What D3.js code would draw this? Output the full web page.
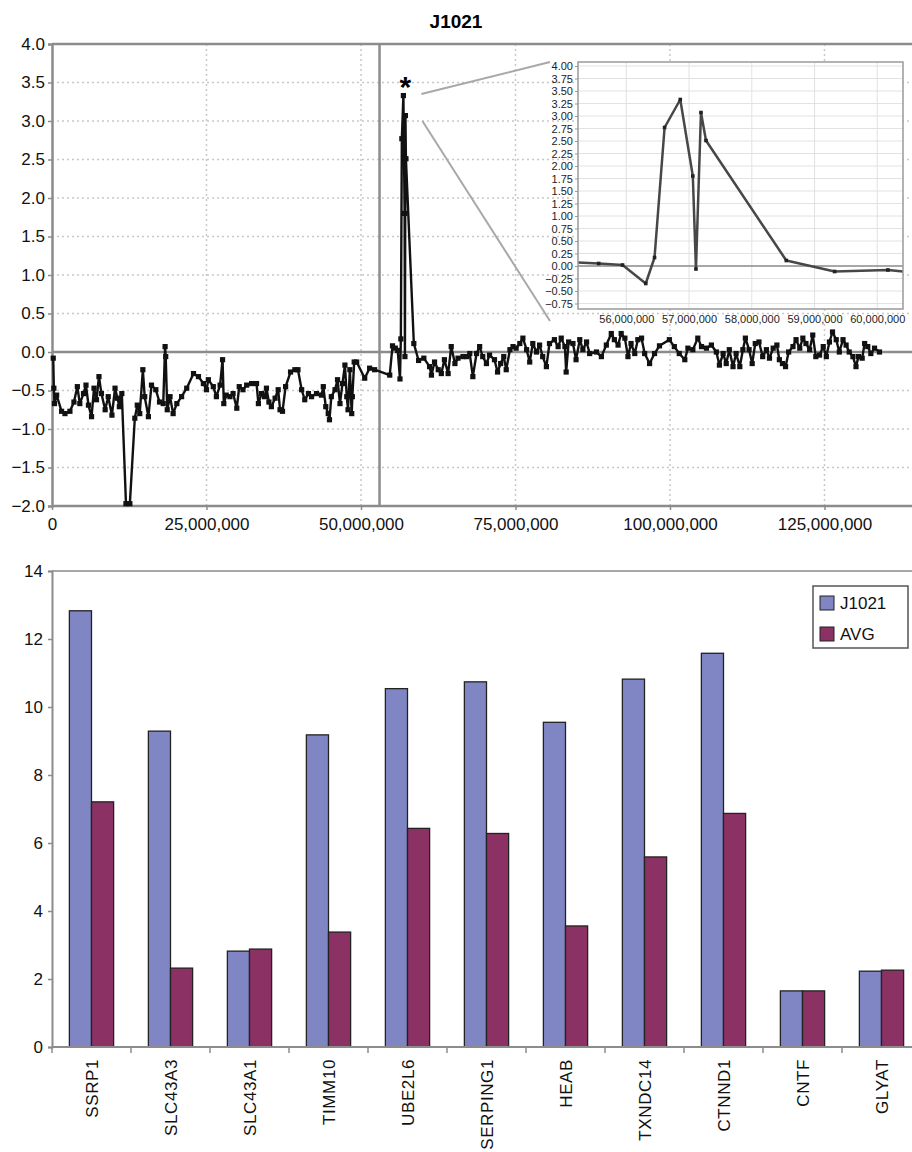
<!DOCTYPE html>
<html>
<head>
<meta charset="utf-8">
<script src="https://cdn.jsdelivr.net/npm/d3@7"></script>
<style>
  body { margin: 0; background: #fff; }
  svg { font-family: "Liberation Sans", Arial, Helvetica, sans-serif; }
</style>
</head>
<body>
<svg id="chart" width="912" height="1152"></svg>
<script>
// ---- data ----
const sampleName = 'J1021';

// copy number profile, [position in Mb, log ratio]
const cnvPoints = [
  [0.2,-0.08],[0.3,-0.47],[0.4,-0.67],[0.75,-0.56],[1.55,-0.77],[2.1,-0.80],[2.9,-0.77],[3.55,-0.65],
  [4.1,-0.45],[4.5,-0.67],[5.1,-0.54],[5.5,-0.43],[5.9,-0.69],[6.4,-0.84],[6.8,-0.47],[7.2,-0.62],
  [7.6,-0.32],[8.0,-0.54],[8.6,-0.75],[9.1,-0.58],[9.7,-0.82],[10.2,-0.47],[10.6,-0.60],[10.9,-0.71],
  [11.3,-0.54],[11.97,-1.97],[12.6,-1.97],[13.4,-0.86],[13.8,-0.69],[14.2,-0.80],[14.7,-0.23],[15.0,-0.58],
  [15.6,-0.84],[16.1,-0.43],[16.8,-0.49],[17.4,-0.65],[18.0,-0.67],[18.3,0.07],[18.4,-0.06],[18.65,-0.75],
  [19.1,-0.58],[19.6,-0.80],[20.2,-0.67],[20.97,-0.58],[21.8,-0.47],[22.9,-0.28],[23.7,-0.32],[24.5,-0.41],
  [25.0,-0.49],[25.3,-0.36],[26.1,-0.45],[26.6,-0.58],[27.2,-0.43],[27.6,-0.10],[27.8,-0.67],[28.2,-0.56],
  [28.8,-0.58],[29.3,-0.54],[29.9,-0.73],[30.3,-0.45],[30.9,-0.49],[31.5,-0.43],[32.3,-0.41],[33.1,-0.41],
  [33.4,-0.67],[33.9,-0.54],[34.4,-0.58],[34.7,-0.47],[35.1,-0.65],[35.5,-0.71],[36.1,-0.60],[36.6,-0.49],
  [36.9,-0.75],[37.3,-0.77],[37.8,-0.45],[38.6,-0.26],[39.3,-0.23],[39.8,-0.23],[40.4,-0.49],[40.9,-0.62],
  [41.5,-0.54],[42.0,-0.58],[42.8,-0.54],[43.6,-0.56],[43.9,-0.45],[44.3,-0.71],[44.7,-0.80],[44.9,-0.88],
  [45.2,-0.58],[45.8,-0.49],[46.2,-0.36],[46.6,-0.67],[47.0,-0.41],[47.4,-0.17],[47.7,-0.58],[47.9,-0.75],
  [48.2,-0.23],[48.5,-0.80],[48.6,-0.58],[48.9,-0.13],[49.3,-0.13],[50.6,-0.34],[51.4,-0.21],[52.2,-0.23],
  [54.65,-0.30],[55.1,0.08],[55.56,0.05],[55.94,0.02],[56.31,-0.35],[56.45,0.17],[56.61,2.77],[56.86,3.33],
  [57.06,1.80],[57.11,-0.06],[57.19,3.07],[57.27,2.51],[58.55,0.11],[59.32,-0.11],[60.17,-0.08],
  [61.1,-0.19],[61.4,-0.30],[61.9,-0.13],[62.5,-0.23],[63.0,-0.28],[63.5,-0.10],[64.1,-0.28],[64.6,0.07],
  [65.2,-0.15],[65.7,-0.08],[66.5,-0.06],[67.1,-0.06],[67.6,-0.02],[68.1,-0.32],[68.7,-0.02],[69.2,0.07],
  [69.7,-0.06],[70.3,-0.15],[70.8,-0.04],[71.6,-0.10],[72.1,-0.26],[72.6,-0.15],[73.1,-0.06],[73.5,-0.23],
  [74.1,0.03],[74.6,0.07],[75.1,0.05],[75.7,0.11],[76.2,0.18],[76.8,0.03],[77.3,-0.13],[77.8,0.11],
  [78.4,0.00],[78.9,0.09],[79.4,-0.06],[80.0,-0.19],[80.5,0.11],[81.3,0.16],[81.9,0.07],[82.4,0.18],
  [83.0,0.07],[83.2,-0.26],[83.6,0.13],[84.3,0.11],[84.8,-0.10],[85.4,0.16],[85.9,0.03],[86.5,0.13],
  [87.0,-0.02],[88.1,0.00],[88.9,-0.06],[89.7,0.09],[90.5,0.24],[91.0,0.16],[91.6,0.09],[92.1,0.24],
  [92.7,0.18],[93.2,-0.06],[93.7,0.11],[94.3,-0.02],[94.8,0.16],[95.4,0.18],[95.9,-0.02],[96.7,-0.15],
  [97.5,-0.02],[98.3,0.08],[99.9,0.16],[100.7,0.07],[101.5,-0.02],[102.4,-0.10],[102.9,0.05],[103.7,0.03],
  [104.5,0.18],[105.1,0.07],[105.9,0.05],[106.7,0.09],[107.5,0.00],[108.0,-0.17],[108.6,-0.02],[109.1,-0.15],
  [109.6,0.03],[110.2,-0.19],[110.7,-0.02],[111.3,-0.19],[111.8,0.03],[112.2,0.18],[112.8,0.03],[113.3,-0.15],
  [113.8,0.11],[114.4,0.13],[115.0,-0.06],[115.6,0.03],[116.1,-0.08],[116.7,0.05],[117.3,0.09],[117.7,-0.10],
  [118.2,-0.15],[118.7,-0.19],[119.2,0.00],[119.9,0.07],[120.4,0.16],[121.0,0.05],[121.5,0.18],[122.0,0.11],
  [122.6,0.03],[123.1,0.22],[123.6,-0.06],[124.2,-0.04],[124.8,0.07],[125.3,-0.06],[125.8,0.13],[126.3,0.26],
  [126.9,0.16],[127.4,0.00],[128.0,0.16],[128.5,0.09],[129.0,0.00],[129.6,-0.06],[130.1,-0.19],[130.5,-0.06],
  [131.1,-0.08],[131.5,0.11],[132.0,0.07],[132.5,-0.02],[133.1,0.05],[133.9,0.00]
];
const centromereMb = 53.0;
const peakMb = 56.86;

const profileYTicks = [-2, -1.5, -1, -0.5, 0, 0.5, 1, 1.5, 2, 2.5, 3, 3.5, 4];
const profileXTicks = [0, 25e6, 50e6, 75e6, 100e6, 125e6];

const insetYTicks = [-0.75, -0.5, -0.25, 0, 0.25, 0.5, 0.75, 1, 1.25, 1.5, 1.75, 2, 2.25, 2.5, 2.75, 3, 3.25, 3.5, 3.75, 4];
const insetXTicks = [56e6, 57e6, 58e6, 59e6, 60e6];

// expression bars
const genes = ['SSRP1', 'SLC43A3', 'SLC43A1', 'TIMM10', 'UBE2L6', 'SERPING1', 'HEAB', 'TXNDC14', 'CTNND1', 'CNTF', 'GLYAT'];
const j1021Vals = [12.83, 9.29, 2.82, 9.18, 10.54, 10.74, 9.55, 10.82, 11.58, 1.65, 2.23];
const avgVals = [7.21, 2.32, 2.88, 3.38, 6.43, 6.28, 3.56, 5.59, 6.87, 1.65, 2.26];
const barSeries = ['J1021', 'AVG'];
const barYTicks = [0, 2, 4, 6, 8, 10, 12, 14];

// ---- layout ----
const svg = d3.select('#chart');
const axisGray = '#8c8c8c';
const gridGray = '#c8c8c8';
const fontPx = 17;

// ========== top: copy number profile ==========
const x = d3.scaleLinear().domain([0, 139e6]).range([52, 911]);
const y = d3.scaleLinear().domain([-2, 4]).range([506, 44]);

svg.append('text')
    .attr('x', 456)
    .attr('y', 28)
    .attr('text-anchor', 'middle')
    .attr('font-size', 19)
    .attr('font-weight', 'bold')
    .text(sampleName);

// dotted grid
svg.append('g')
    .selectAll('line')
    .data(profileYTicks.filter(d => d > -2 && d < 4 && d !== 0))
    .join('line')
    .attr('x1', x.range()[0]).attr('x2', x.range()[1])
    .attr('y1', d => y(d)).attr('y2', d => y(d))
    .attr('stroke', gridGray)
    .attr('stroke-width', 1.5)
    .attr('stroke-dasharray', '2,3');

svg.append('g')
    .selectAll('line')
    .data(profileXTicks.filter(d => d > 0))
    .join('line')
    .attr('x1', d => x(d)).attr('x2', d => x(d))
    .attr('y1', y(4)).attr('y2', y(-2))
    .attr('stroke', gridGray)
    .attr('stroke-width', 1.5)
    .attr('stroke-dasharray', '2,3');

// frame lines
const frame = svg.append('g').attr('stroke', axisGray).attr('stroke-width', 2.5);
frame.append('line').attr('x1', x.range()[0]).attr('x2', 912).attr('y1', y(4)).attr('y2', y(4));
frame.append('line').attr('x1', x.range()[0]).attr('x2', 912).attr('y1', y(0)).attr('y2', y(0));
frame.append('line').attr('x1', x(centromereMb * 1e6)).attr('x2', x(centromereMb * 1e6)).attr('y1', y(4)).attr('y2', y(-2));

const yAxis = svg.append('g')
    .attr('transform', `translate(${x.range()[0]},0)`)
    .call(d3.axisLeft(y).tickValues(profileYTicks).tickFormat(d3.format('.1f')).tickSize(4).tickPadding(3));

const xAxis = svg.append('g')
    .attr('transform', `translate(0,${y(-2)})`)
    .call(d3.axisBottom(x).tickValues(profileXTicks).tickFormat(d3.format(',')).tickSize(4).tickPadding(8));

[yAxis, xAxis].forEach(ax => {
    ax.select('.domain').attr('stroke', axisGray).attr('stroke-width', 2.5);
    ax.selectAll('.tick line').attr('stroke', axisGray).attr('stroke-width', 1.5);
    ax.selectAll('.tick text').attr('font-size', fontPx).attr('fill', '#111')
        .attr('font-family', '"Liberation Sans", Arial, sans-serif');
});
xAxis.select('.domain').attr('d', `M${x.range()[0]},0H912`);

// profile trace
const line = d3.line()
    .x(d => x(d[0] * 1e6))
    .y(d => y(d[1]));

svg.append('path')
    .datum(cnvPoints)
    .attr('d', line)
    .attr('fill', 'none')
    .attr('stroke', '#111')
    .attr('stroke-width', 2.4)
    .attr('stroke-linejoin', 'round');

svg.append('g')
    .selectAll('rect')
    .data(cnvPoints)
    .join('rect')
    .attr('x', d => x(d[0] * 1e6) - 2.6)
    .attr('y', d => y(d[1]) - 2.6)
    .attr('width', 5.2)
    .attr('height', 5.2)
    .attr('fill', '#111');

// star over the amplification peak
svg.append('text')
    .attr('x', x(peakMb * 1e6) + 2)
    .attr('y', y(3.33) + 1)
    .attr('text-anchor', 'middle')
    .attr('font-size', 30)
    .attr('font-weight', 'bold')
    .text('*');

// ---------- inset zoom ----------
const xI = d3.scaleLinear().domain([55.23e6, 60.41e6]).range([578, 903]);
const yI = d3.scaleLinear().domain([-0.86, 4.08]).range([309, 62]);

// connector lines from peak to inset
const conn = svg.append('g').attr('stroke', '#a8a8a8').attr('stroke-width', 2);
conn.append('line')
    .attr('x1', x(peakMb * 1e6) + 18).attr('y1', y(3.35))
    .attr('x2', xI.range()[0] - 28).attr('y2', yI.range()[1]);
conn.append('line')
    .attr('x1', x(peakMb * 1e6) + 19).attr('y1', y(3.0))
    .attr('x2', xI.range()[0] - 28).attr('y2', yI.range()[0] + 12);

svg.append('rect')
    .attr('x', xI.range()[0]).attr('y', yI.range()[1])
    .attr('width', xI.range()[1] - xI.range()[0])
    .attr('height', yI.range()[0] - yI.range()[1])
    .attr('fill', '#fff');

const insetGrid = svg.append('g').attr('stroke', '#e2e2e2').attr('stroke-width', 1);
insetGrid.selectAll('.h')
    .data(insetYTicks.filter(d => d !== 0))
    .join('line')
    .attr('class', 'h')
    .attr('x1', xI.range()[0]).attr('x2', xI.range()[1])
    .attr('y1', d => yI(d)).attr('y2', d => yI(d));
insetGrid.selectAll('.v')
    .data(insetXTicks)
    .join('line')
    .attr('class', 'v')
    .attr('x1', d => xI(d)).attr('x2', d => xI(d))
    .attr('y1', yI.range()[1]).attr('y2', yI.range()[0]);

svg.append('line')
    .attr('x1', xI.range()[0]).attr('x2', xI.range()[1])
    .attr('y1', yI(0)).attr('y2', yI(0))
    .attr('stroke', '#8a8a8a')
    .attr('stroke-width', 1.5);

svg.append('defs').append('clipPath')
    .attr('id', 'insetClip')
    .append('rect')
    .attr('x', xI.range()[0]).attr('y', yI.range()[1])
    .attr('width', xI.range()[1] - xI.range()[0])
    .attr('height', yI.range()[0] - yI.range()[1]);

const insetPts = cnvPoints.filter(d => d[0] > 54 && d[0] < 62);
const insetLine = d3.line()
    .x(d => xI(d[0] * 1e6))
    .y(d => yI(d[1]));

const insetG = svg.append('g').attr('clip-path', 'url(#insetClip)');
insetG.append('path')
    .datum(insetPts)
    .attr('d', insetLine)
    .attr('fill', 'none')
    .attr('stroke', '#474747')
    .attr('stroke-width', 2.5)
    .attr('stroke-linejoin', 'round');
insetG.selectAll('rect')
    .data(insetPts)
    .join('rect')
    .attr('x', d => xI(d[0] * 1e6) - 1.8)
    .attr('y', d => yI(d[1]) - 1.8)
    .attr('width', 3.6)
    .attr('height', 3.6)
    .attr('fill', '#222');

svg.append('rect')
    .attr('x', xI.range()[0]).attr('y', yI.range()[1])
    .attr('width', xI.range()[1] - xI.range()[0])
    .attr('height', yI.range()[0] - yI.range()[1])
    .attr('fill', 'none')
    .attr('stroke', '#9a9a9a')
    .attr('stroke-width', 1.5);

const insetY = svg.append('g')
    .attr('transform', `translate(${xI.range()[0]},0)`)
    .call(d3.axisLeft(yI).tickValues(insetYTicks).tickFormat(d3.format('.2f')).tickSize(3).tickPadding(2));
const insetX = svg.append('g')
    .attr('transform', `translate(0,${yI.range()[0]})`)
    .call(d3.axisBottom(xI).tickValues(insetXTicks).tickFormat(d3.format(',')).tickSize(0).tickPadding(6));
[insetY, insetX].forEach(ax => {
    ax.select('.domain').remove();
    ax.selectAll('.tick line').attr('stroke', '#999');
    ax.selectAll('.tick text').attr('font-size', 11).attr('fill', '#222')
        .attr('font-family', '"Liberation Sans", Arial, sans-serif');
});

// ========== bottom: expression bars ==========
const yB = d3.scaleLinear().domain([0, 14]).range([1047, 571]);
const x0 = d3.scaleBand().domain(genes).range([52, 921]).padding(0);
const x1 = d3.scaleBand().domain(barSeries)
    .range([x0.bandwidth() * 0.22, x0.bandwidth() * 0.78]);
const barColor = d3.scaleOrdinal().domain(barSeries).range(['#7f86c3', '#8b3164']);

svg.append('line')
    .attr('x1', x0.range()[0]).attr('x2', 912)
    .attr('y1', yB(14)).attr('y2', yB(14))
    .attr('stroke', '#a8a8a8')
    .attr('stroke-width', 2);

const barData = genes.map((g, i) => ({gene: g, values: [
    {key: 'J1021', value: j1021Vals[i]},
    {key: 'AVG', value: avgVals[i]}
]}));

svg.append('g')
    .selectAll('g')
    .data(barData)
    .join('g')
    .attr('transform', d => `translate(${x0(d.gene)},0)`)
    .selectAll('rect')
    .data(d => d.values)
    .join('rect')
    .attr('x', d => x1(d.key))
    .attr('y', d => yB(d.value))
    .attr('width', x1.bandwidth())
    .attr('height', d => yB(0) - yB(d.value))
    .attr('fill', d => barColor(d.key))
    .attr('stroke', '#222')
    .attr('stroke-width', 1.3);

const yAxisB = svg.append('g')
    .attr('transform', `translate(${x0.range()[0]},0)`)
    .call(d3.axisLeft(yB).tickValues(barYTicks).tickSize(4).tickPadding(5));
yAxisB.select('.domain').attr('stroke', axisGray).attr('stroke-width', 2);
yAxisB.selectAll('.tick line').attr('stroke', axisGray).attr('stroke-width', 1.5);
yAxisB.selectAll('.tick text').attr('font-size', fontPx).attr('fill', '#111')
    .attr('font-family', '"Liberation Sans", Arial, sans-serif');

// category axis
svg.append('line')
    .attr('x1', x0.range()[0]).attr('x2', 912)
    .attr('y1', yB(0)).attr('y2', yB(0))
    .attr('stroke', axisGray)
    .attr('stroke-width', 2);

svg.append('g')
    .selectAll('line')
    .data(genes)
    .join('line')
    .attr('x1', d => x0(d)).attr('x2', d => x0(d))
    .attr('y1', yB(0)).attr('y2', yB(0) + 6)
    .attr('stroke', axisGray)
    .attr('stroke-width', 1.5);

svg.append('g')
    .selectAll('text')
    .data(genes)
    .join('text')
    .attr('transform', d => `translate(${x0(d) + x0.bandwidth() / 2 + 6},${yB(0) + 12}) rotate(-90)`)
    .attr('text-anchor', 'end')
    .attr('font-size', fontPx)
    .attr('letter-spacing', 0.6)
    .attr('fill', '#111')
    .text(d => d);

// legend
const legend = svg.append('g').attr('transform', 'translate(813,586)');
legend.append('rect')
    .attr('width', 95).attr('height', 62)
    .attr('fill', '#fff')
    .attr('stroke', '#555')
    .attr('stroke-width', 1.5);
const legItems = legend.selectAll('g')
    .data(barSeries)
    .join('g')
    .attr('transform', (d, i) => `translate(7,${10 + i * 31})`);
legItems.append('rect')
    .attr('width', 14).attr('height', 14)
    .attr('fill', d => barColor(d))
    .attr('stroke', '#222')
    .attr('stroke-width', 1);
legItems.append('text')
    .attr('x', 20)
    .attr('y', 13)
    .attr('font-size', fontPx)
    .attr('fill', '#111')
    .text(d => d);
</script>
</body>
</html>
